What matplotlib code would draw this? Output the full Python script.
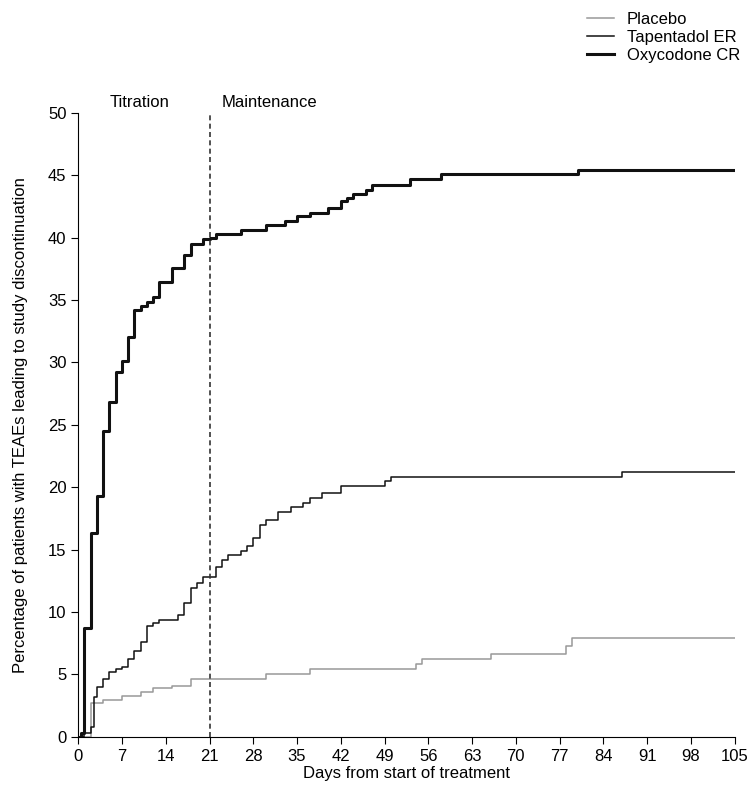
import matplotlib
matplotlib.use('Agg')
import matplotlib.pyplot as plt

plt.rcParams['font.family'] = ['Liberation Sans', 'DejaVu Sans']

# step data (day, cumulative %)
oxy_days = [0, 0.5, 1, 2, 3, 4, 5, 6, 7, 8, 9, 10, 11, 12, 13, 15, 17, 18, 20, 21, 22, 26, 30, 33, 35,
            37, 40, 42, 43, 44, 46, 47, 53, 58, 80, 105]
oxy_pct = [0, 0.3, 8.7, 16.3, 19.3, 24.5, 26.8, 29.2, 30.1, 32.0, 34.2, 34.5, 34.8, 35.2, 36.4, 37.6,
           38.6, 39.5, 39.9, 40.0, 40.3, 40.6, 41.0, 41.3, 41.7, 42.0, 42.4, 42.9, 43.2, 43.5, 43.8,
           44.2, 44.7, 45.1, 45.4, 45.4]
tap_days = [0, 1, 2, 2.6, 3, 4, 5, 6, 7, 8, 9, 10, 11, 12, 13, 16, 17, 18, 19, 20, 22, 23, 24, 26, 27,
            28, 29, 30, 32, 34, 36, 37, 39, 42, 49, 50, 87, 105]
tap_pct = [0, 0.3, 0.8, 3.2, 4.0, 4.6, 5.2, 5.4, 5.6, 6.2, 6.9, 7.6, 8.9, 9.1, 9.4, 9.8, 10.7, 11.9,
           12.3, 12.8, 13.6, 14.2, 14.6, 14.9, 15.3, 15.9, 17.0, 17.4, 18.0, 18.4, 18.7, 19.1, 19.5,
           20.1, 20.5, 20.8, 21.2, 21.2]
pla_days = [0, 2, 4, 7, 10, 12, 15, 18, 30, 37, 54, 55, 66, 78, 79, 105]
pla_pct = [0, 2.7, 2.95, 3.3, 3.6, 3.9, 4.1, 4.6, 5.0, 5.4, 5.8, 6.2, 6.6, 7.3, 7.9, 7.9]

fig = plt.figure(figsize=(7.52, 7.94), dpi=100)
ax = fig.add_axes([0.104, 0.072, 0.873, 0.786])

ax.step(pla_days, pla_pct, where='post', color='#999999', lw=1.1, label='Placebo')
ax.step(tap_days, tap_pct, where='post', color='#111111', lw=1.1, label='Tapentadol ER')
ax.step(oxy_days, oxy_pct, where='post', color='#111111', lw=2.2, label='Oxycodone CR')

ax.axvline(21, color='#333333', lw=1.2, ls=(0, (3, 2)))
ax.text(5, 50.2, 'Titration', fontsize=12, va='bottom')
ax.text(23, 50.2, 'Maintenance', fontsize=12, va='bottom')

ax.set_xlim(0, 105)
ax.set_ylim(0, 50)
ax.set_xticks(range(0, 106, 7))
ax.set_yticks(range(0, 51, 5))
ax.tick_params(labelsize=12, direction='out', length=5)
for s in ['top', 'right']:
    ax.spines[s].set_visible(False)
ax.set_xlabel('Days from start of treatment', fontsize=12, labelpad=2)
ax.set_ylabel('Percentage of patients with TEAEs leading to study discontinuation', fontsize=12,
              labelpad=14)

fig.legend(loc='upper right', bbox_to_anchor=(1.0, 1.0), frameon=False, fontsize=12,
           handlelength=1.6, labelspacing=0.2, borderaxespad=0.3)

fig.savefig('out.png', dpi=100)
